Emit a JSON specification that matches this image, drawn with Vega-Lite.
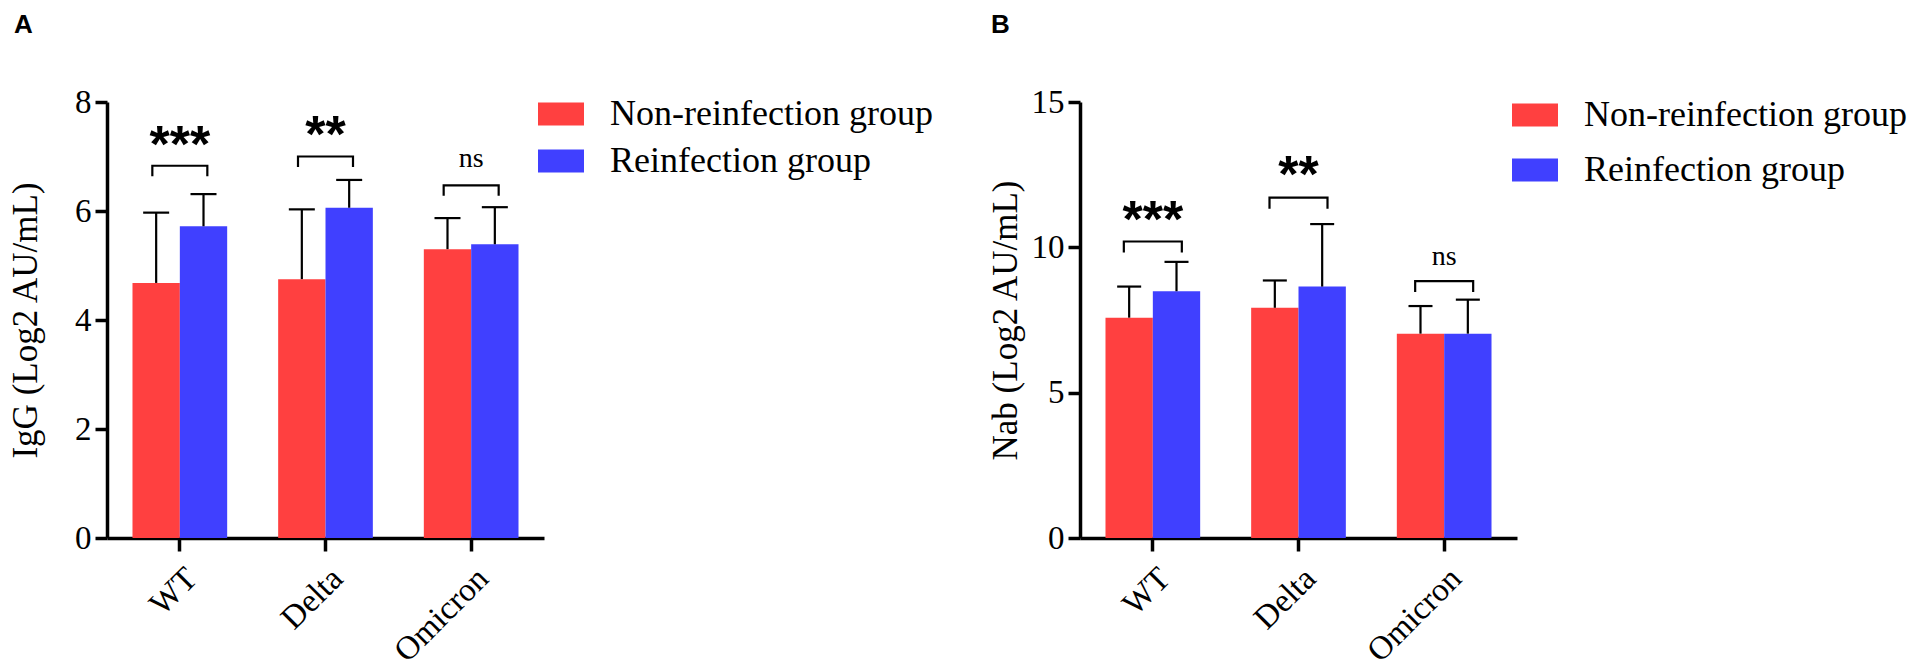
{
  "$schema": "https://vega.github.io/schema/vega-lite/v6.json",
  "autosize": {"type": "pad"},
  "padding": {"left": 8, "top": 12, "right": 0, "bottom": 0},
  "background": "white",
  "config": {
    "view": {"stroke": null},
    "axis": {
      "grid": false,
      "domainColor": "black",
      "domainWidth": 3.5,
      "tickColor": "black",
      "tickWidth": 3.5,
      "tickSize": 12,
      "labelFont": "Liberation Serif",
      "labelFontSize": 33,
      "labelColor": "black",
      "labelFlush": false,
      "labelOverlap": false,
      "titleFont": "Liberation Serif",
      "titleFontSize": 35,
      "titleFontWeight": "normal",
      "titleColor": "black"
    },
    "legend": {
      "title": null,
      "orient": "none",
      "symbolType": "M-1,-0.5H1V0.5H-1Z",
      "symbolSize": 2116,
      "symbolStrokeWidth": 0,
      "symbolOpacity": 1,
      "labelFont": "Liberation Serif",
      "labelFontSize": 36,
      "labelColor": "black",
      "labelOffset": 26,
      "labelLimit": 600,
      "padding": 0
    },
    "title": {"font": "Liberation Sans", "fontWeight": "bold", "fontSize": 26, "color": "black", "anchor": "start", "frame": "bounds"}
  },
  "datasets": {
    "igg": [
      {"variant": "WT", "group": "Non-reinfection group", "mean": 4.68, "upper": 5.97},
      {"variant": "WT", "group": "Reinfection group", "mean": 5.72, "upper": 6.31},
      {"variant": "Delta", "group": "Non-reinfection group", "mean": 4.75, "upper": 6.03},
      {"variant": "Delta", "group": "Reinfection group", "mean": 6.06, "upper": 6.57},
      {"variant": "Omicron", "group": "Non-reinfection group", "mean": 5.30, "upper": 5.87},
      {"variant": "Omicron", "group": "Reinfection group", "mean": 5.39, "upper": 6.07}
    ],
    "nab": [
      {"variant": "WT", "group": "Non-reinfection group", "mean": 7.58, "upper": 8.65},
      {"variant": "WT", "group": "Reinfection group", "mean": 8.49, "upper": 9.50},
      {"variant": "Delta", "group": "Non-reinfection group", "mean": 7.92, "upper": 8.86},
      {"variant": "Delta", "group": "Reinfection group", "mean": 8.65, "upper": 10.80},
      {"variant": "Omicron", "group": "Non-reinfection group", "mean": 7.03, "upper": 7.98},
      {"variant": "Omicron", "group": "Reinfection group", "mean": 7.03, "upper": 8.20}
    ],
    "sigA": [
      {"variant": "WT", "top": 6.83, "label": "***", "labelY": 7.33},
      {"variant": "Delta", "top": 7.0, "label": "**", "labelY": 7.5},
      {"variant": "Omicron", "top": 6.47, "label": "ns", "labelY": 6.98}
    ],
    "sigB": [
      {"variant": "WT", "top": 10.2, "label": "***", "labelY": 11.14},
      {"variant": "Delta", "top": 11.71, "label": "**", "labelY": 12.68},
      {"variant": "Omicron", "top": 8.84, "label": "ns", "labelY": 9.71}
    ]
  },
  "hconcat": [
    {
      "title": {"text": "A", "dx": 6, "offset": 48},
      "width": 437,
      "height": 436,
      "layer": [
        {
          "data": {"name": "igg"},
          "mark": {"type": "bar"},
          "encoding": {
            "x": {
              "field": "variant", "type": "nominal", "sort": ["WT", "Delta", "Omicron"],
              "scale": {"paddingInner": 0.35, "paddingOuter": 0.175},
              "axis": {"title": null, "labelAngle": -45, "labelAlign": "right", "labelBaseline": "middle", "tickSize": 13, "labelPadding": 22, "labelOffset": 12}
            },
            "xOffset": {"field": "group", "sort": ["Non-reinfection group", "Reinfection group"]},
            "y": {
              "field": "mean", "type": "quantitative", "title": "IgG (Log2 AU/mL)",
              "scale": {"domain": [0, 8], "nice": false},
              "axis": {"values": [0, 2, 4, 6, 8], "labelPadding": 4, "titleX": -64, "titleBaseline": "bottom"}
            },
            "color": {
              "field": "group", "type": "nominal",
              "scale": {"domain": ["Non-reinfection group", "Reinfection group"], "range": ["#ff4040", "#4040ff"]},
              "legend": {"legendX": 431, "legendY": -11, "rowPadding": 6}
            }
          }
        },
        {
          "data": {"name": "igg"},
          "mark": {"type": "rule", "color": "black", "strokeWidth": 2.2},
          "encoding": {
            "x": {"field": "variant", "type": "nominal", "sort": ["WT", "Delta", "Omicron"]},
            "xOffset": {"field": "group", "sort": ["Non-reinfection group", "Reinfection group"]},
            "y": {"field": "mean", "type": "quantitative", "title": "IgG (Log2 AU/mL)"},
            "y2": {"field": "upper"}
          }
        },
        {
          "data": {"name": "igg"},
          "mark": {"type": "tick", "color": "black", "size": 26, "thickness": 2.2, "opacity": 1},
          "encoding": {
            "x": {"field": "variant", "type": "nominal", "sort": ["WT", "Delta", "Omicron"]},
            "xOffset": {"field": "group", "sort": ["Non-reinfection group", "Reinfection group"]},
            "y": {"field": "upper", "type": "quantitative", "title": "IgG (Log2 AU/mL)"}
          }
        },
        {
          "data": {"name": "sigA"},
          "mark": {"type": "point", "shape": "M-1,0.38V0H1V0.38", "filled": false, "stroke": "black", "strokeWidth": 2.2, "size": 3025, "opacity": 1},
          "encoding": {
            "x": {"field": "variant", "type": "nominal", "sort": ["WT", "Delta", "Omicron"]},
            "y": {"field": "top", "type": "quantitative", "title": "IgG (Log2 AU/mL)"}
          }
        },
        {
          "data": {"name": "sigA"},
          "transform": [{"filter": "datum.label != 'ns'"}],
          "mark": {"type": "text", "font": "Liberation Sans", "fontWeight": "bold", "fontSize": 52, "align": "center", "baseline": "middle", "dy": 7, "color": "black"},
          "encoding": {
            "x": {"field": "variant", "type": "nominal", "sort": ["WT", "Delta", "Omicron"]},
            "y": {"field": "labelY", "type": "quantitative", "title": "IgG (Log2 AU/mL)"},
            "text": {"field": "label"}
          }
        },
        {
          "data": {"name": "sigA"},
          "transform": [{"filter": "datum.label == 'ns'"}],
          "mark": {"type": "text", "font": "Liberation Serif", "fontSize": 28, "align": "center", "baseline": "middle", "dy": 1, "color": "black"},
          "encoding": {
            "x": {"field": "variant", "type": "nominal", "sort": ["WT", "Delta", "Omicron"]},
            "y": {"field": "labelY", "type": "quantitative", "title": "IgG (Log2 AU/mL)"},
            "text": {"field": "label"}
          }
        }
      ]
    },
    {
      "title": {"text": "B", "dx": 3, "offset": 48},
      "width": 437,
      "height": 436,
      "layer": [
        {
          "data": {"name": "nab"},
          "mark": {"type": "bar"},
          "encoding": {
            "x": {
              "field": "variant", "type": "nominal", "sort": ["WT", "Delta", "Omicron"],
              "scale": {"paddingInner": 0.35, "paddingOuter": 0.175},
              "axis": {"title": null, "labelAngle": -45, "labelAlign": "right", "labelBaseline": "middle", "tickSize": 13, "labelPadding": 22, "labelOffset": 12}
            },
            "xOffset": {"field": "group", "sort": ["Non-reinfection group", "Reinfection group"]},
            "y": {
              "field": "mean", "type": "quantitative", "title": "Nab (Log2 AU/mL)",
              "scale": {"domain": [0, 15], "nice": false},
              "axis": {"values": [0, 5, 10, 15], "labelPadding": 4, "titleX": -57, "titleBaseline": "bottom"}
            },
            "color": {
              "field": "group", "type": "nominal",
              "scale": {"domain": ["Non-reinfection group", "Reinfection group"], "range": ["#ff4040", "#4040ff"]},
              "legend": {"legendX": 432, "legendY": -10, "rowPadding": 14}
            }
          }
        },
        {
          "data": {"name": "nab"},
          "mark": {"type": "rule", "color": "black", "strokeWidth": 2.2},
          "encoding": {
            "x": {"field": "variant", "type": "nominal", "sort": ["WT", "Delta", "Omicron"]},
            "xOffset": {"field": "group", "sort": ["Non-reinfection group", "Reinfection group"]},
            "y": {"field": "mean", "type": "quantitative", "title": "Nab (Log2 AU/mL)"},
            "y2": {"field": "upper"}
          }
        },
        {
          "data": {"name": "nab"},
          "mark": {"type": "tick", "color": "black", "size": 24, "thickness": 2.2, "opacity": 1},
          "encoding": {
            "x": {"field": "variant", "type": "nominal", "sort": ["WT", "Delta", "Omicron"]},
            "xOffset": {"field": "group", "sort": ["Non-reinfection group", "Reinfection group"]},
            "y": {"field": "upper", "type": "quantitative", "title": "Nab (Log2 AU/mL)"}
          }
        },
        {
          "data": {"name": "sigB"},
          "mark": {"type": "point", "shape": "M-1,0.38V0H1V0.38", "filled": false, "stroke": "black", "strokeWidth": 2.2, "size": 3364, "opacity": 1},
          "encoding": {
            "x": {"field": "variant", "type": "nominal", "sort": ["WT", "Delta", "Omicron"]},
            "y": {"field": "top", "type": "quantitative", "title": "Nab (Log2 AU/mL)"}
          }
        },
        {
          "data": {"name": "sigB"},
          "transform": [{"filter": "datum.label != 'ns'"}],
          "mark": {"type": "text", "font": "Liberation Sans", "fontWeight": "bold", "fontSize": 52, "align": "center", "baseline": "middle", "dy": 7, "color": "black"},
          "encoding": {
            "x": {"field": "variant", "type": "nominal", "sort": ["WT", "Delta", "Omicron"]},
            "y": {"field": "labelY", "type": "quantitative", "title": "Nab (Log2 AU/mL)"},
            "text": {"field": "label"}
          }
        },
        {
          "data": {"name": "sigB"},
          "transform": [{"filter": "datum.label == 'ns'"}],
          "mark": {"type": "text", "font": "Liberation Serif", "fontSize": 28, "align": "center", "baseline": "middle", "dy": 1, "color": "black"},
          "encoding": {
            "x": {"field": "variant", "type": "nominal", "sort": ["WT", "Delta", "Omicron"]},
            "y": {"field": "labelY", "type": "quantitative", "title": "Nab (Log2 AU/mL)"},
            "text": {"field": "label"}
          }
        }
      ]
    }
  ],
  "bounds": "flush",
  "spacing": 536,
  "resolve": {"scale": {"color": "independent"}, "legend": {"color": "independent"}}
}
